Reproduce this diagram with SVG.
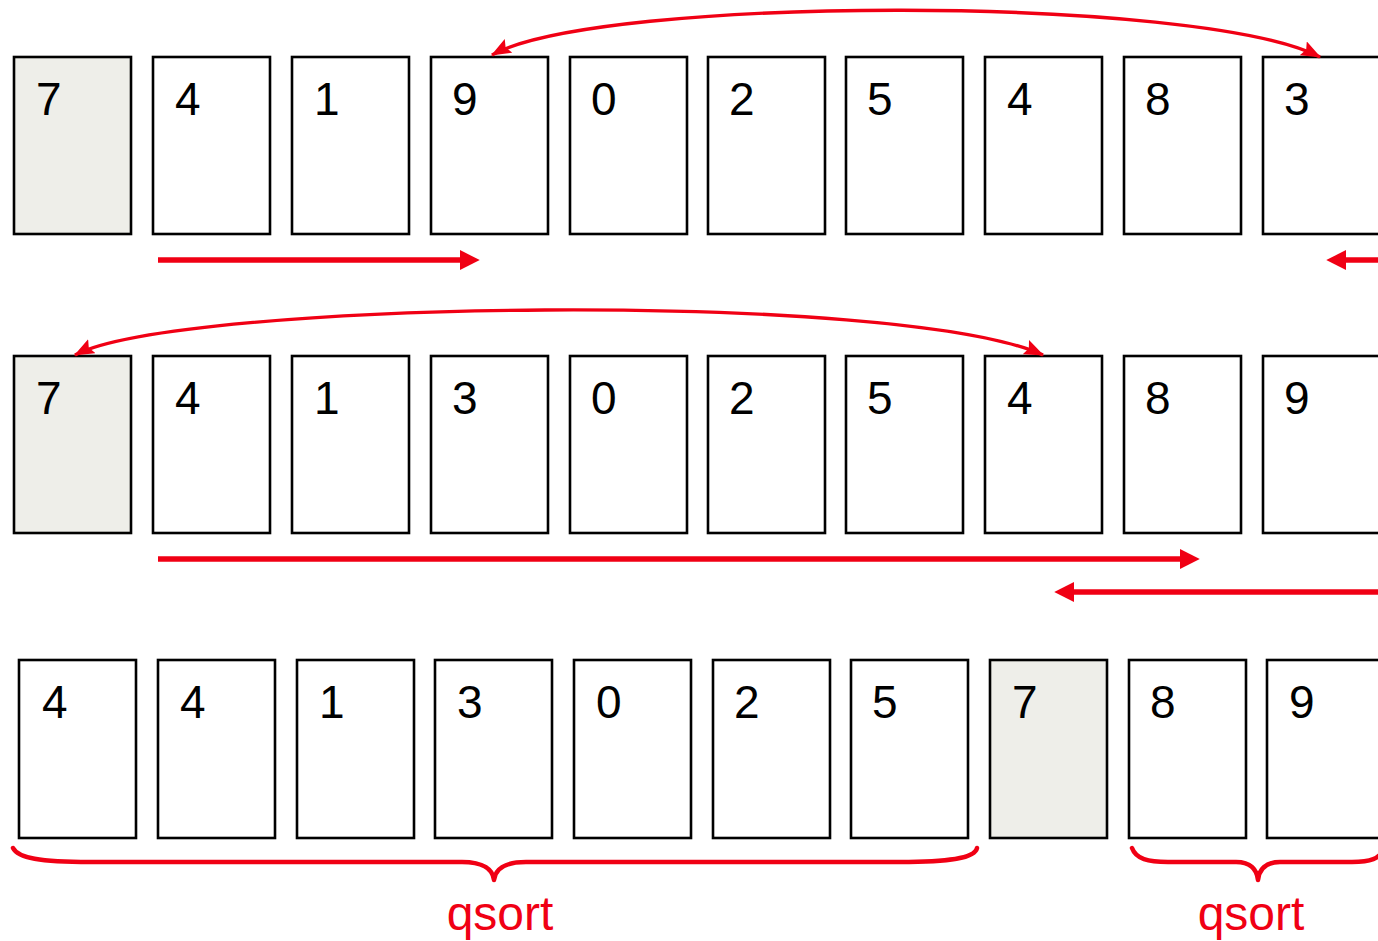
<svg xmlns="http://www.w3.org/2000/svg" width="1378" height="941" viewBox="0 0 1378 941">
<style>
.box{fill:#ffffff;stroke:#000;stroke-width:2.6}
.piv{fill:#eeeee9;stroke:#000;stroke-width:2.6}
.num{font-family:"Liberation Sans",Arial,sans-serif;font-size:46px;fill:#000}
.arr{fill:none;stroke:#f00014;stroke-width:5.5}
.curve{fill:none;stroke:#f00014;stroke-width:3.4}
.brace{fill:none;stroke:#f00014;stroke-width:4.5;stroke-linecap:round;stroke-linejoin:round}
.lbl{font-family:"Liberation Sans",Arial,sans-serif;font-size:48px;fill:#f00014;text-anchor:middle}
</style>
<defs>
<marker id="big" markerUnits="userSpaceOnUse" markerWidth="20" markerHeight="20" viewBox="0 0 18 18" refX="2" refY="9" orient="auto-start-reverse">
<path d="M0,0 L18,9 L0,18 z" fill="#f00014"/>
</marker>
<marker id="small" markerUnits="userSpaceOnUse" markerWidth="20" markerHeight="16" viewBox="0 0 18 14" refX="17" refY="7" orient="auto-start-reverse">
<path d="M0,0 L18,7 L0,14 L3,7 z" fill="#f00014"/>
</marker>
</defs>

<g id="row1">
<g id="r1c0"><rect class="piv" x="14" y="57" width="117" height="177"/><text class="num" x="36" y="115">7</text></g>
<g id="r1c1"><rect class="box" x="153" y="57" width="117" height="177"/><text class="num" x="175" y="115">4</text></g>
<g id="r1c2"><rect class="box" x="292" y="57" width="117" height="177"/><text class="num" x="314" y="115">1</text></g>
<g id="r1c3"><rect class="box" x="431" y="57" width="117" height="177"/><text class="num" x="452" y="115">9</text></g>
<g id="r1c4"><rect class="box" x="570" y="57" width="117" height="177"/><text class="num" x="591" y="115">0</text></g>
<g id="r1c5"><rect class="box" x="708" y="57" width="117" height="177"/><text class="num" x="729" y="115">2</text></g>
<g id="r1c6"><rect class="box" x="846" y="57" width="117" height="177"/><text class="num" x="867" y="115">5</text></g>
<g id="r1c7"><rect class="box" x="985" y="57" width="117" height="177"/><text class="num" x="1007" y="115">4</text></g>
<g id="r1c8"><rect class="box" x="1124" y="57" width="117" height="177"/><text class="num" x="1145" y="115">8</text></g>
<g id="r1c9"><rect class="box" x="1263" y="57" width="117" height="177"/><text class="num" x="1284" y="115">3</text></g>
</g>

<g id="row2">
<g id="r2c0"><rect class="piv" x="14" y="356" width="117" height="177"/><text class="num" x="36" y="414">7</text></g>
<g id="r2c1"><rect class="box" x="153" y="356" width="117" height="177"/><text class="num" x="175" y="414">4</text></g>
<g id="r2c2"><rect class="box" x="292" y="356" width="117" height="177"/><text class="num" x="314" y="414">1</text></g>
<g id="r2c3"><rect class="box" x="431" y="356" width="117" height="177"/><text class="num" x="452" y="414">3</text></g>
<g id="r2c4"><rect class="box" x="570" y="356" width="117" height="177"/><text class="num" x="591" y="414">0</text></g>
<g id="r2c5"><rect class="box" x="708" y="356" width="117" height="177"/><text class="num" x="729" y="414">2</text></g>
<g id="r2c6"><rect class="box" x="846" y="356" width="117" height="177"/><text class="num" x="867" y="414">5</text></g>
<g id="r2c7"><rect class="box" x="985" y="356" width="117" height="177"/><text class="num" x="1007" y="414">4</text></g>
<g id="r2c8"><rect class="box" x="1124" y="356" width="117" height="177"/><text class="num" x="1145" y="414">8</text></g>
<g id="r2c9"><rect class="box" x="1263" y="356" width="117" height="177"/><text class="num" x="1284" y="414">9</text></g>
</g>

<g id="row3">
<g id="r3c0"><rect class="box" x="19" y="660" width="117" height="178"/><text class="num" x="42" y="718">4</text></g>
<g id="r3c1"><rect class="box" x="158" y="660" width="117" height="178"/><text class="num" x="180" y="718">4</text></g>
<g id="r3c2"><rect class="box" x="297" y="660" width="117" height="178"/><text class="num" x="319" y="718">1</text></g>
<g id="r3c3"><rect class="box" x="435" y="660" width="117" height="178"/><text class="num" x="457" y="718">3</text></g>
<g id="r3c4"><rect class="box" x="574" y="660" width="117" height="178"/><text class="num" x="596" y="718">0</text></g>
<g id="r3c5"><rect class="box" x="713" y="660" width="117" height="178"/><text class="num" x="734" y="718">2</text></g>
<g id="r3c6"><rect class="box" x="851" y="660" width="117" height="178"/><text class="num" x="872" y="718">5</text></g>
<g id="r3c7"><rect class="piv" x="990" y="660" width="117" height="178"/><text class="num" x="1012" y="718">7</text></g>
<g id="r3c8"><rect class="box" x="1129" y="660" width="117" height="178"/><text class="num" x="1150" y="718">8</text></g>
<g id="r3c9"><rect class="box" x="1267" y="660" width="117" height="178"/><text class="num" x="1289" y="718">9</text></g>
</g>

<g id="connectors">
<path class="curve" d="M 492 55 C 600 -5, 1200 -5, 1320 57" marker-start="url(#small)" marker-end="url(#small)"/>
<path class="arr" d="M 158 260 L 462 260" marker-end="url(#big)"/>
<path class="arr" d="M 1380 260 L 1344 260" marker-end="url(#big)"/>
<path class="curve" d="M 75 355 C 180 300, 900 290, 1043 355" marker-start="url(#small)" marker-end="url(#small)"/>
<path class="arr" d="M 158 559 L 1182 559" marker-end="url(#big)"/>
<path class="arr" d="M 1380 592 L 1072 592" marker-end="url(#big)"/>
</g>

<g id="braces">
<path class="brace" d="M 13 848 C 18 858, 40 862, 90 862 L 462 862 C 484 862, 493 870, 494 880 C 495 870, 504 862, 526 862 L 900 862 C 950 862, 975 858, 977 848"/>
<path class="brace" d="M 1132 848 C 1136 859, 1148 862, 1168 862 L 1236 862 C 1251 862, 1257 870, 1258 880 C 1259 870, 1265 862, 1280 862 L 1352 862 C 1370 862, 1380 859, 1384 848"/>
<text class="lbl" x="500" y="930">qsort</text>
<text class="lbl" x="1251" y="930">qsort</text>
</g>
</svg>
